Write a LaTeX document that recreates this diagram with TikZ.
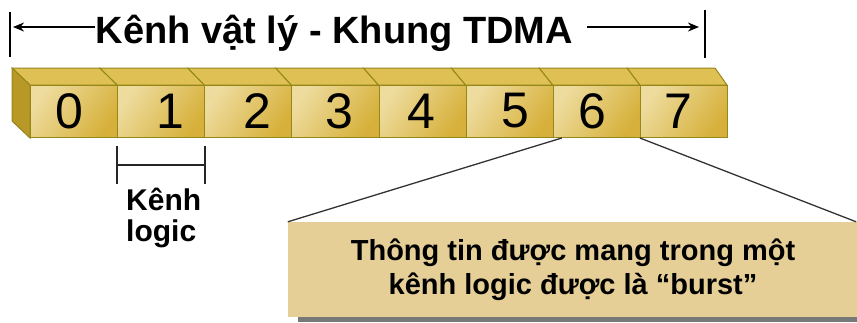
\documentclass[tikz,border=0pt]{standalone}
\usepackage{fontspec}
\setmainfont{Liberation Sans}
\usepackage{tikz}
\usetikzlibrary{arrows,arrows.meta,positioning,calc}
\definecolor{edgec}{RGB}{150,135,25}
\definecolor{topc}{RGB}{222,192,84}
\definecolor{sidec}{RGB}{184,152,38}
\definecolor{frontl}{RGB}{238,220,158}
\definecolor{frontd}{RGB}{214,176,58}
\definecolor{papyrus}{RGB}{229,207,150}
\definecolor{shadowc}{RGB}{120,120,120}
\tikzstyle{cell}=[rectangle, draw=edgec, line width=1pt, inner sep=0pt, minimum width=87.125pt, minimum height=52pt, left color=frontl, right color=frontd, shading angle=55]
\tikzstyle{topface}=[fill=topc, draw=edgec, line width=1pt]
\tikzstyle{digit}=[inner sep=0pt, font=\fontsize{50}{50}\selectfont]
\tikzstyle{bar}=[line width=2.4pt, black]
\tikzstyle{span}=[->, line width=2.4pt, black]
\tikzstyle{bracket}=[line width=1.8pt, black!85]
\tikzstyle{burstbox}=[rectangle, fill=papyrus, inner sep=0pt, minimum width=570pt, minimum height=95pt, align=center, font=\fontsize{29}{34}\selectfont\bfseries]
\tikzstyle{zoomline}=[line width=1.3pt, black!80]

\begin{document}
\begin{tikzpicture}
[x=1pt, y=-1pt, >={Stealth[length=11pt,width=9pt]}]
\useasboundingbox (0,0) rectangle (857,322);
\node[anchor=base, inner sep=0pt, font=\fontsize{38}{38}\selectfont\bfseries] (title) at (334.5,43) {Kênh vật lý - Khung TDMA};
\coordinate (lbar) at (10,12);
\coordinate (rbar) at (705,10);
\draw[bar] (lbar) -- ++(0,45);
\draw[bar] (rbar) -- ++(0,48);
\draw[span] ([xshift=-1pt]title.west |- 0,27) -- ([xshift=3pt]lbar |- 0,27);
\draw[span] ([xshift=14pt]title.east |- 0,27) -- ([xshift=-6pt]rbar |- 0,27);
\foreach \i in {0,...,7}{
  \pgfmathsetmacro{\xl}{30+87.125*\i}
  \pgfmathsetmacro{\xr}{\xl+87.125}
  \pgfmathsetmacro{\bl}{\xl-18+0.75*\i}
  \pgfmathsetmacro{\br}{\xr-18+0.75*(\i+1)}
  \path[topface] (\bl,68) -- (\br,68) -- (\xr,85) -- (\xl,85) -- cycle;
  \node[cell, anchor=north west] (c\i) at (\xl,85) {};
}
\path[fill=sidec, draw=edgec, line width=1pt] (12,68) -- (c0.north west) -- (c0.south west) -- (12,121) -- cycle;
\foreach \i/\x in {0/69,1/170,2/257,3/339,4/421,5/515,6/592,7/678}
  \node[digit] (d\i) at (\x,111) {\i};
\draw[bracket] ($(c1.south west)+(0,8)$) -- ++(0,38);
\draw[bracket] ($(c1.south east)+(0,8)$) -- ++(0,38);
\draw[bracket] ($(c1.south west)+(0,27)$) -- ($(c1.south east)+(0,27)$);
\node[anchor=north west, align=left, inner sep=0pt, font=\fontsize{30}{31}\selectfont\bfseries] (logic) at (126,188) {Kênh\\logic};
\node[burstbox] (burst) at (573,269.5) {Thông tin được mang trong một\\kênh logic được là “burst”};
\fill[shadowc] ([xshift=10pt]burst.south west) rectangle ([yshift=-5pt]burst.south east);
\draw[zoomline] (burst.north west) -- ([xshift=9pt]c6.south west);
\draw[zoomline] (c7.south west) -- ([xshift=-2pt]burst.north east);
\end{tikzpicture}
\end{document}
